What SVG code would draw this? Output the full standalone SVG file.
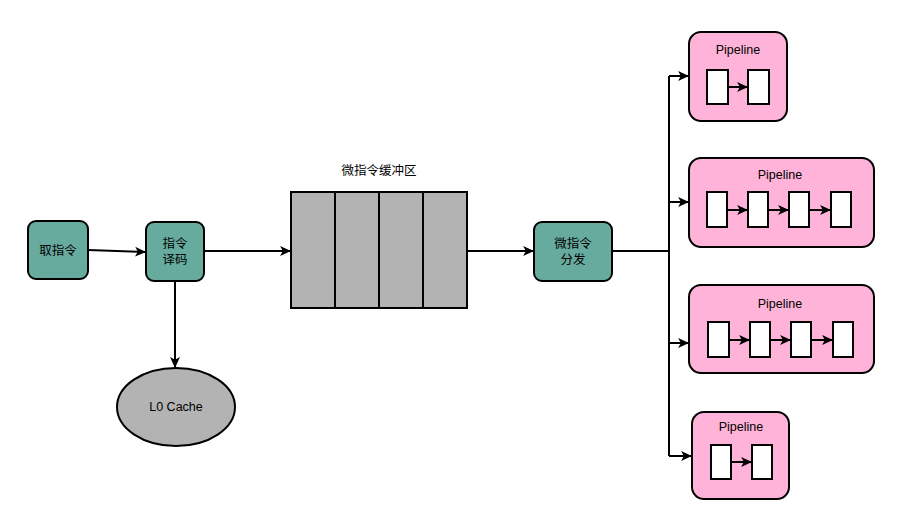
<svg xmlns="http://www.w3.org/2000/svg" width="916" height="523" viewBox="0 0 916 523">
<defs>
<marker id="arr" viewBox="0 0 10 10" refX="9" refY="5" markerWidth="11" markerHeight="11" markerUnits="userSpaceOnUse" orient="auto">
<path d="M0,0.5 L10,5 L0,9.5 L2.5,5 z" fill="#000"/>
</marker>
<style>
.teal{fill:#67AB9F;stroke:#000;stroke-width:2}
.pink{fill:#FFB3D9;stroke:#000;stroke-width:2}
.gray{fill:#B3B3B3;stroke:#000;stroke-width:2}
.cell{fill:#fff;stroke:#000;stroke-width:2}
.t{font-family:"Liberation Sans","Noto Sans CJK SC",sans-serif;font-size:12.5px;fill:#000;text-anchor:middle}
.c{fill:none;stroke:#000;stroke-width:2}
.ca{fill:none;stroke:#000;stroke-width:2;marker-end:url(#arr)}
</style>
</defs>
<rect width="916" height="523" fill="#fff"/>
<g id="connectors">
<path class="ca" d="M88,250 L145,252"/>
<path class="ca" d="M204,251 L290,251"/>
<path class="ca" d="M175,281 L175,367"/>
<path class="ca" d="M467,251 L533,251"/>
<path class="c" d="M612,251 L669,251"/>
<path class="c" d="M669,76 L669,456"/>
<path class="ca" d="M669,76 L688,76"/>
<path class="ca" d="M669,202 L688,202"/>
<path class="ca" d="M669,343 L688,343"/>
<path class="ca" d="M669,456 L691,456"/>
</g>
<g id="fetch">
<rect class="teal" x="28" y="221" width="60" height="58" rx="8"/>
<text class="t" x="58" y="255">取指令</text>
</g>
<g id="decode">
<rect class="teal" x="146" y="222" width="58" height="59" rx="8"/>
<text class="t" x="175" y="248">指令</text>
<text class="t" x="175" y="264">译码</text>
</g>
<g id="cache">
<ellipse class="gray" cx="176" cy="407" rx="59" ry="39"/>
<text class="t" x="176" y="411">L0 Cache</text>
</g>
<g id="buffer">
<text class="t" x="379" y="175">微指令缓冲区</text>
<rect class="gray" x="291" y="192" width="176" height="116"/>
<path class="c" d="M335,192 V308 M379,192 V308 M423,192 V308"/>
</g>
<g id="dispatch">
<rect class="teal" x="534" y="222" width="78" height="59" rx="8"/>
<text class="t" x="573" y="248">微指令</text>
<text class="t" x="573" y="264">分发</text>
</g>
<g id="pipeline1">
<rect class="pink" x="689" y="32" width="98" height="89" rx="12"/>
<text class="t" x="738" y="54">Pipeline</text>
<rect class="cell" x="707" y="70" width="21" height="34"/>
<rect class="cell" x="748" y="70" width="21" height="34"/>
<path class="ca" d="M728,87 L747,87"/>
</g>
<g id="pipeline2">
<rect class="pink" x="689" y="158" width="185" height="89" rx="12"/>
<text class="t" x="780" y="179">Pipeline</text>
<rect class="cell" x="707" y="192" width="20" height="35"/>
<rect class="cell" x="748" y="192" width="20" height="35"/>
<rect class="cell" x="789" y="192" width="20" height="35"/>
<rect class="cell" x="831" y="192" width="20" height="35"/>
<path class="ca" d="M727,210 L747,210"/>
<path class="ca" d="M768,210 L788,210"/>
<path class="ca" d="M809,210 L830,210"/>
</g>
<g id="pipeline3">
<rect class="pink" x="689" y="285" width="185" height="88" rx="12"/>
<text class="t" x="780" y="308">Pipeline</text>
<rect class="cell" x="708" y="322" width="21" height="35"/>
<rect class="cell" x="750" y="322" width="20" height="35"/>
<rect class="cell" x="791" y="322" width="20" height="35"/>
<rect class="cell" x="833" y="322" width="20" height="35"/>
<path class="ca" d="M729,340 L749,340"/>
<path class="ca" d="M770,340 L790,340"/>
<path class="ca" d="M811,340 L832,340"/>
</g>
<g id="pipeline4">
<rect class="pink" x="692" y="412" width="97" height="87" rx="12"/>
<text class="t" x="741" y="431">Pipeline</text>
<rect class="cell" x="711" y="445" width="20" height="34"/>
<rect class="cell" x="752" y="445" width="20" height="34"/>
<path class="ca" d="M731,462 L751,462"/>
</g>
</svg>
